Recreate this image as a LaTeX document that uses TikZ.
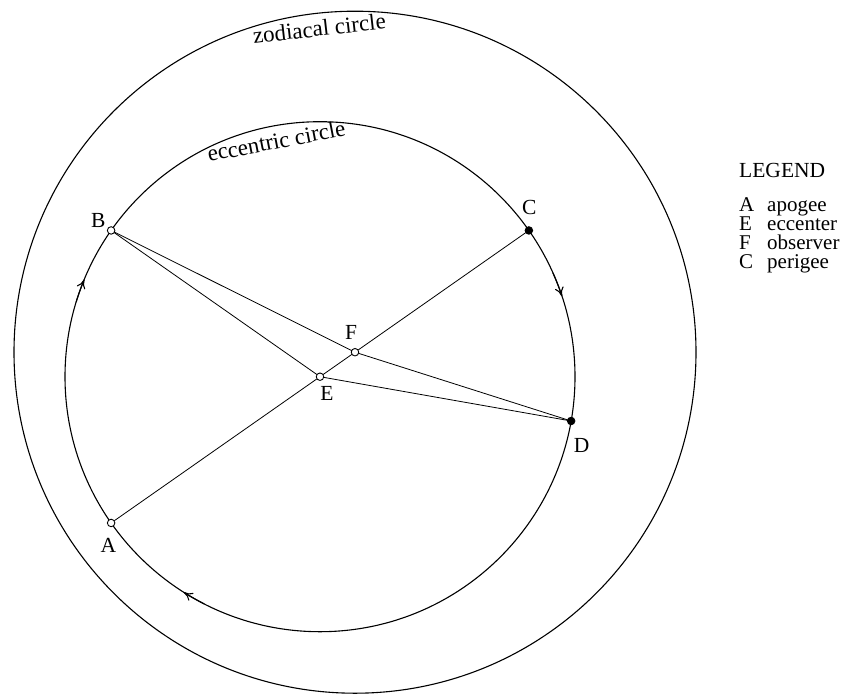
\documentclass[tikz,border=0pt]{standalone}
\usepackage{fontspec}
\setmainfont{Liberation Serif}
\usetikzlibrary{calc,arrows.meta}
\begin{document}
\begin{tikzpicture}[x=1pt,y=-1pt,
  pt/.style={circle,draw,line width=0.9pt,fill=white,inner sep=0pt,minimum size=7.5pt},
  ptfull/.style={pt,fill=black},
  lbl/.style={font=\fontsize{21.5}{24}\selectfont,inner sep=0pt},
  leglbl/.style={font=\fontsize{21}{24}\selectfont,inner sep=0pt},
  big/.style={font=\fontsize{23}{26}\selectfont,inner sep=0pt},
  ln/.style={line width=0.8pt},
  circ/.style={line width=1.1pt},
  arr/.style={line width=1.1pt,-{To[length=9pt,width=9pt]}}]
\useasboundingbox (0,0) rectangle (848,694);
% centres
\coordinate (E) at (320,376.7);
\coordinate (F) at (355,352.2);
% circles
\draw[circ] (F) circle[radius=341pt];
\draw[circ] (E) circle[radius=255pt];
% points on the eccentric circle
\coordinate (A) at ($(E)+(215:255pt)$);
\coordinate (B) at ($(E)+(145:255pt)$);
\coordinate (C) at ($(E)+(35:255pt)$);
\coordinate (D) at ($(E)+(-10:255pt)$);
% lines
\draw[ln] (A) -- (C);
\draw[ln] (B) -- (E);
\draw[ln] (B) -- (F);
\draw[ln] (E) -- (D);
\draw[ln] (F) -- (D);
% direction arrows (clockwise)
\draw[arr] ($(E)+(163:255pt)$) arc[start angle=163,end angle=157.6,radius=255pt];
\draw[arr] ($(E)+(24:255pt)$) arc[start angle=24,end angle=18.4,radius=255pt];
\draw[arr] ($(E)+(243:255pt)$) arc[start angle=243,end angle=237.7,radius=255pt];
% point marks
\node[pt] (pA) at (A) {};
\node[pt] (pB) at (B) {};
\node[ptfull] (pC) at (C) {};
\node[ptfull] (pD) at (D) {};
\node[pt] (pE) at (E) {};
\node[pt] (pF) at (F) {};
% point labels
\node[lbl] (lB) at (98.3,220.7) {B};
\node[lbl] (lC) at (529.3,207.3) {C};
\node[lbl] (lD) at (581.7,445.5) {D};
\node[lbl] (lA) at (108.5,545) {A};
\node[lbl] (lE) at (327,393) {E};
\node[lbl] (lF) at (351,332) {F};
% circle names
\node[big,anchor=base,rotate=6.5] (zod) at ($(F)+(96.3:318pt)$) {zodiacal circle};
\node[big,anchor=base,rotate=11] (ecc) at ($(E)+(100.5:232pt)$) {eccentric circle};
% legend
\node[lbl,anchor=base west] (leg) at (739,177) {LEGEND};
\node[leglbl,anchor=base west] (kA) at (739,211) {A};
\node[leglbl,anchor=base west] (vA) at (767,211) {apogee};
\node[leglbl,anchor=base west] (kE) at (739,230) {E};
\node[leglbl,anchor=base west] (vE) at (767,230) {eccenter};
\node[leglbl,anchor=base west] (kF) at (739,249) {F};
\node[leglbl,anchor=base west] (vF) at (767,249) {observer};
\node[leglbl,anchor=base west] (kC) at (739,268) {C};
\node[leglbl,anchor=base west] (vC) at (767,268) {perigee};
\end{tikzpicture}
\end{document}
